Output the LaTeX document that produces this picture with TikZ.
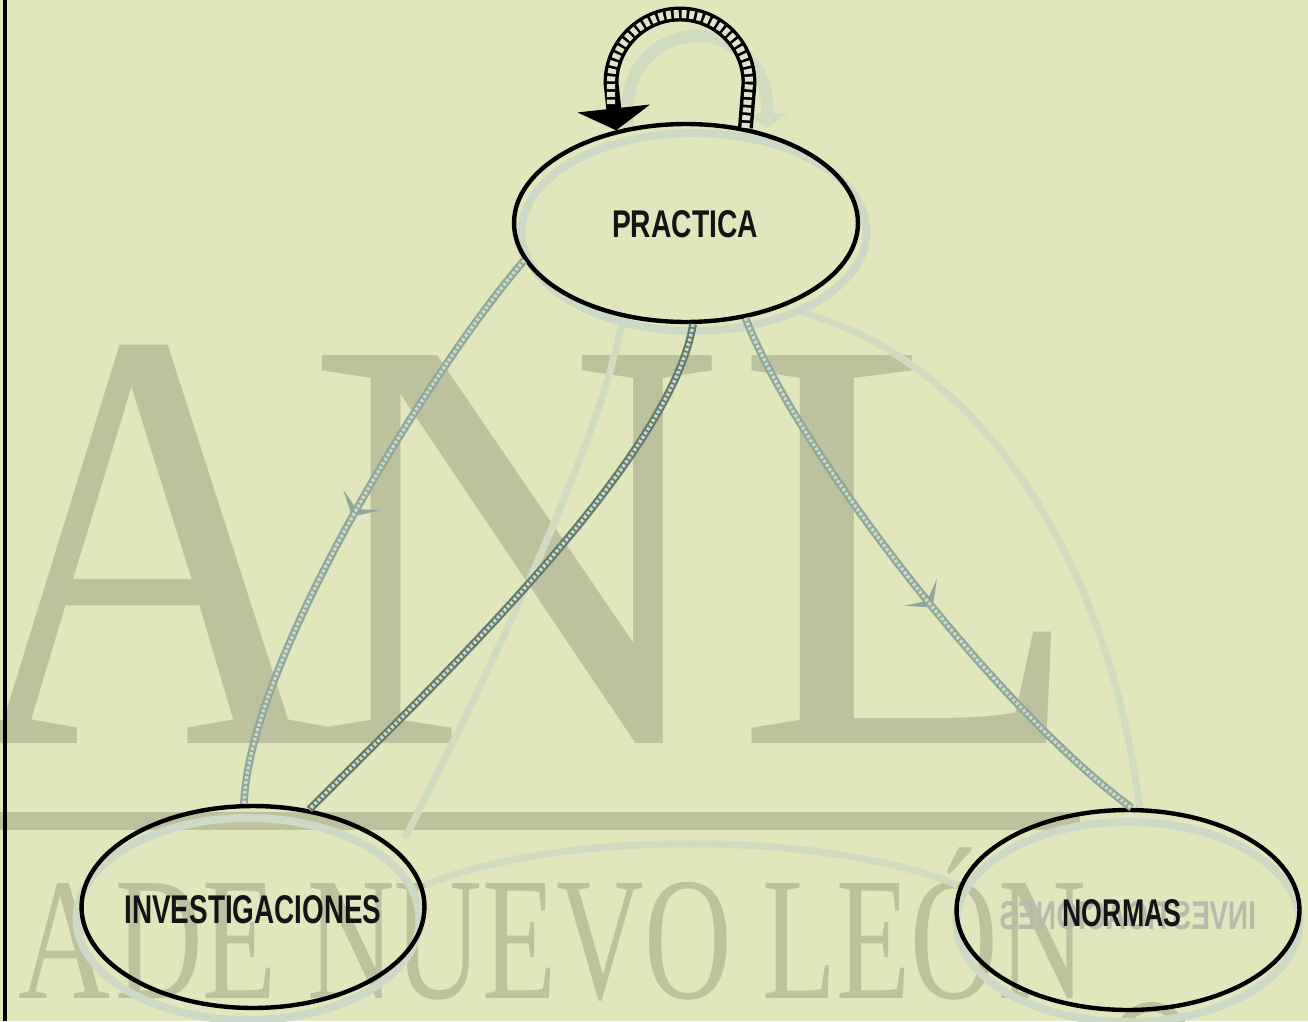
\documentclass[tikz,border=0pt]{standalone}
\usepackage{fontspec}
\setmainfont{Liberation Serif}
\newfontfamily\labfont{Liberation Sans}
\usetikzlibrary{shapes.geometric,arrows.meta,decorations.markings}
\definecolor{paper}{RGB}{226,230,188}
\definecolor{wm}{RGB}{190,193,157}
\definecolor{railA}{RGB}{142,168,156}
\definecolor{railB}{RGB}{98,124,114}
\definecolor{railin}{RGB}{206,218,196}
\definecolor{ghost}{RGB}{205,217,196}
\definecolor{ghostline}{RGB}{209,219,194}
\definecolor{ghosttext}{RGB}{180,188,172}
\definecolor{loopin}{RGB}{224,228,206}
\begin{document}
\begin{tikzpicture}[x=0.02cm,y=-0.02cm,
  ell/.style={ellipse, draw=black, line width=2.5pt, inner sep=0pt},
  halo/.style={ellipse, draw=ghost, line width=4.5pt, inner sep=0pt},
  lab/.style={inner sep=0pt, text=black!92, font=\labfont\bfseries},
  railout/.style={draw=#1, line width=4.4pt},
  railinner/.style={draw=railin, line width=1.9pt, dash pattern=on 1.7pt off 1.1pt},
  ghostrail/.style={draw=ghostline, line width=4pt},
  midarrow/.style={postaction={decorate}, decoration={markings,
     mark=at position #1 with {\arrow{Stealth[length=11pt,width=24pt,inset=6pt,color=railA]}}}},
  wmtext/.style={inner sep=0pt, text=wm, anchor=base west},
]
\useasboundingbox (0,0) rectangle (1308,1021);
\fill[paper] (0,0) rectangle (1308,1021);

% ---------- watermark ----------
\node[wmtext] (wA) at (-40,743) {\resizebox{7.5cm}{7.96cm}{A}};
\node[wmtext] (wN) at (305,743) {\resizebox{8.4cm}{7.76cm}{N}};
\node[wmtext] (wL) at (735,743) {\resizebox{7.0cm}{7.76cm}{L}};
\fill[wm] (0,812) rectangle (1080,830);
\node[wmtext] (wA2) at (18,998) {\resizebox{1.84cm}{2.3cm}{A}};
\node[wmtext] (wline) at (115,998) {\resizebox{19.4cm}{2.3cm}{\raisebox{0pt}[0.655em][0pt]{DE NUEVO LEÓN}}};
\draw[wm, line width=5.6pt] (1152,1040) circle (33);

% ---------- ghost (show-through) marks ----------
\coordinate (g1s) at (800,312);
\coordinate (g1e) at (1140,812);
\draw[ghostrail] (g1s) .. controls (980,360) and (1110,560) .. (g1e);
\coordinate (g2s) at (622,322);
\coordinate (g2e) at (405,838);
\draw[ghostrail] (g2s) .. controls (600,440) and (500,650) .. (g2e);
\coordinate (g3s) at (425,885);
\coordinate (g3e) at (958,885);
\draw[ghostrail] (g3s) .. controls (560,830) and (820,830) .. (g3e);
\coordinate (g4s) at (628,130);
\coordinate (g4e) at (768,128);
\draw[ghostrail, line width=7pt, -{Triangle[width=22pt,length=8pt]}]
  (g4s) -- (628,105) .. controls (628,67) and (659,36) .. (697,36)
  .. controls (735,36) and (767,67) .. (767,105) -- (g4e);
\node[inner sep=0pt, text=ghosttext, font=\labfont\bfseries] (gt) at (1128,916)
  {\reflectbox{\resizebox{5.14cm}{0.56cm}{INVESTIGACIONES}}};

% ---------- ghost halos ----------
\node[halo, minimum width=6.9cm, minimum height=3.96cm] (Pg) at (694,232) {};
\node[halo, minimum width=6.86cm, minimum height=4.04cm] (Ig) at (248,919) {};
\node[halo, minimum width=6.86cm, minimum height=4.0cm] (Ng) at (1128,922) {};

% ---------- nodes ----------
\node[ell, minimum width=6.88cm, minimum height=3.96cm] (P) at (686,223) {};
\node[ell, minimum width=6.86cm, minimum height=4.04cm] (I) at (253,907) {};
\node[ell, minimum width=6.86cm, minimum height=4.0cm] (N) at (1128,910) {};

\node[lab] (Pt) at (685,224) {\resizebox{2.92cm}{0.54cm}{PRACTICA}};
\node[lab] (It) at (253,910) {\resizebox{5.14cm}{0.56cm}{INVESTIGACIONES}};
\node[lab] (Nt) at (1122,913) {\resizebox{2.38cm}{0.54cm}{NORMAS}};

% ---------- connectors ----------
\draw[railout=railA, midarrow=0.5] (P.193) .. controls +(-87,100) and +(5,-146) .. (I.95);
\draw[railinner] (P.193) .. controls +(-87,100) and +(5,-146) .. (I.95);
\draw[railout=railB] (P.274) .. controls +(-23,138) and +(120,-120) .. (I.60);
\draw[railinner] (P.274) .. controls +(-23,138) and +(120,-120) .. (I.60);
\draw[railout=railA, midarrow=0.55] (P.302) .. controls +(50,129) and +(-141,-105) .. (N.88);
\draw[railinner] (P.302) .. controls +(50,129) and +(-141,-105) .. (N.88);

% ---------- self loop on PRACTICA ----------
\draw[draw=black, line width=8.5pt, -{Triangle[width=41pt,length=12.5pt]}]
  (P.58) -- (749,83) .. controls (749,45) and (718,14) .. (680,14)
  .. controls (642,14) and (611,45) .. (611,83) -- (P.127);
\draw[draw=loopin, line width=4.6pt, dash pattern=on 2.8pt off 1.6pt]
  (P.58) -- (749,83) .. controls (749,45) and (718,14) .. (680,14)
  .. controls (642,14) and (611,45) .. (611,83) -- (611,104);

% ---------- left border ----------
\draw[line width=2.8pt] (5,0) -- (5,1021);
\end{tikzpicture}
\end{document}
